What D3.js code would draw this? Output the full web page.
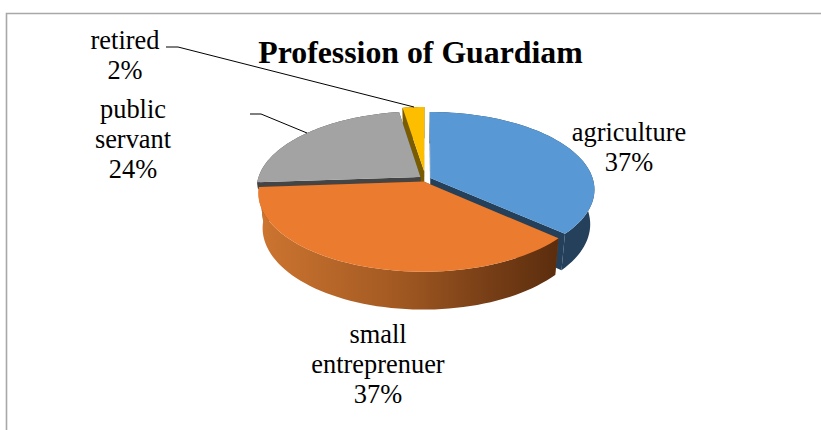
<!DOCTYPE html>
<html><head><meta charset="utf-8">
<script src="https://cdn.jsdelivr.net/npm/d3@7"></script>
<style>html,body{margin:0;padding:0;background:#fff;overflow:hidden}svg{display:block}text{font-family:"Liberation Serif",serif;fill:#000}</style>
</head><body><svg id="c" width="821" height="430"></svg>
<script>
const categories = ["agriculture","small entrepreneur","public servant","retired"];
const values = [36.6,37.3,23.6,2.49];
const labelLines = [["agriculture","37%"],["small","entreprenuer","37%"],["public","servant","24%"],["retired","2%"]];
const colors = ["#5898D4","#EA7B2F","#A3A3A3","#FDBE00"];
const wallColors = ["#24405A","#7a4018","#444444","#7A5C00"];
const explode = [0.033,0.036,0.04,0.10];
const wallDepth = [1,1,0.2,1];
const labelPos = [[629,141],[378,343],[133,118],[125,49]];
const paintOrder = [3,2,0,1];

const svg = d3.select("#c");
const line=d3.line();
svg.append("path").attr("d",line([[6.5,430],[6.5,13.5],[821,13.5]])).attr("fill","none").attr("stroke","#a8a8a8").attr("stroke-width",1.6);

const pie = d3.pie().sort(null).value(d=>d);
const arcs = pie(values);

const cx=425.5, cy=179, R=162.5, tilt=76/162.5, k=0.147, D=35, m=0.025;
function proj(X,Y,Z){
  const s=(1/(1-k*Y))*(1-m*Z);
  return [cx+R*X*s, cy+R*tilt*Y*s+D*Z*s];
}
const defs=svg.append("defs");
const grad=defs.append("linearGradient").attr("id","og").attr("gradientUnits","userSpaceOnUse")
 .attr("x1",proj(-1,0,0)[0]).attr("x2",proj(0.8,0,0)[0]).attr("y1",0).attr("y2",0);
[["0","#CC7430"],["0.45","#A35A22"],["0.75","#7A4017"],["1","#5C2E0E"]].forEach(s=>grad.append("stop").attr("offset",s[0]).attr("stop-color",s[1]));

paintOrder.forEach(i=>{
  const a=arcs[i], e=explode[i], mid=(a.startAngle+a.endAngle)/2, z=wallDepth[i];
  const ox=e*Math.sin(mid), oy=-e*Math.cos(mid);
  const P=(t,r,Z)=>proj(ox+r*Math.sin(t),oy-r*Math.cos(t),Z);
  const ts=d3.range(0,61).map(j=>a.startAngle+(a.endAngle-a.startAngle)*j/60);
  const wallFill=i===1?"url(#og)":wallColors[i];
  [a.startAngle,a.endAngle].forEach(t=>{
    svg.append("path").attr("d",line([P(t,0,0),P(t,1,0),P(t,1,z),P(t,0,z)])+"Z").attr("fill",wallColors[i]);
  });
  const wall=ts.map(t=>P(t,1,0)).concat(ts.slice().reverse().map(t=>P(t,1,z)));
  svg.append("path").attr("d",line(wall)+"Z").attr("fill",wallFill);
  const top=[P(0,0,0)].concat(ts.map(t=>P(t,1,0)));
  svg.append("path").attr("d",line(top)+"Z").attr("fill",colors[i]);
});

const leaders=[[[166,47],[178,47],[414,107]],[[250,114],[261,114],[307,133]]];
leaders.forEach(l=>svg.append("path").attr("d",line(l)).attr("fill","none").attr("stroke","#000").attr("stroke-width",1));

svg.append("text").attr("x",420.5).attr("y",63).attr("text-anchor","middle")
  .attr("font-size",31.8).attr("font-weight","bold").text("Profession of Guardiam");
labelLines.forEach((ls,i)=>{
  const t=svg.append("text").attr("text-anchor","middle").attr("font-size",26.4);
  ls.forEach((s,j)=>t.append("tspan").attr("x",labelPos[i][0]).attr("y",labelPos[i][1]+j*30).text(s));
});
</script></body></html>
